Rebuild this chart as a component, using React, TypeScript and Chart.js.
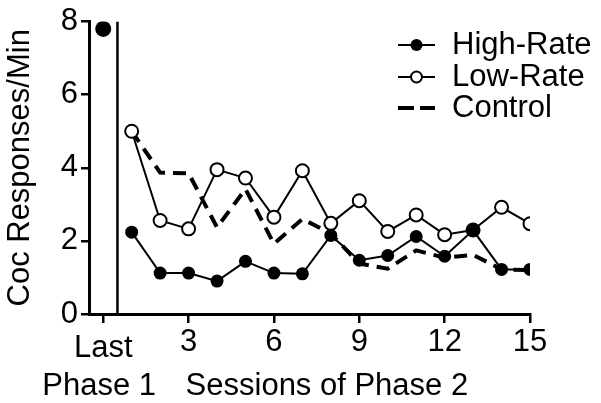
import React, { useEffect, useRef } from 'react';
import { Chart, registerables } from 'chart.js';

Chart.register(...registerables);

// ---- Data ----
const sessions = [1, 2, 3, 4, 5, 6, 7, 8, 9, 10, 11, 12, 13, 14, 15];
const lastPhase1X = 0;
const lastPhase1Value = 7.8;
const highRate = [2.24, 1.12, 1.12, 0.9, 1.44, 1.12, 1.1, 2.15, 1.47, 1.6, 2.12, 1.58, 2.29, 1.22, 1.22];
const lowRate = [5.0, 2.56, 2.33, 3.95, 3.72, 2.65, 3.92, 2.48, 3.1, 2.26, 2.71, 2.17, 2.3, 2.92, 2.47];
const control = [5.0, 3.87, 3.85, 2.37, 3.42, 1.92, 2.6, 2.2, 1.38, 1.24, 1.74, 1.54, 1.62, 1.22, 1.2];
const xTickValues = [0, 3, 6, 9, 12, 15];
const yTickValues = [0, 2, 4, 6, 8];
const dividerX = 0.5;
const legendLabels = ['High-Rate', 'Low-Rate', 'Control'];
const yTitle = 'Coc Responses/Min';
const lastLabel = 'Last';
const phase1Label = 'Phase 1';
const phase2Label = 'Sessions of Phase 2';

const FONT = '"Liberation Sans", Arial, Helvetica, sans-serif';
const FS = 31;

const extraText = {
  id: 'extraText',
  afterDraw(chart: any) {
    const ctx = chart.ctx;
    const xs = chart.scales.x;
    ctx.save();
    ctx.fillStyle = '#000';
    ctx.font = `${FS}px ${FONT}`;
    ctx.textBaseline = 'middle';
    ctx.textAlign = 'center';
    ctx.fillText(lastLabel, xs.getPixelForValue(0), 348.5);
    ctx.fillText(phase1Label, xs.getPixelForValue(0) - 4, 386);
    ctx.textAlign = 'left';
    ctx.fillText(phase2Label, xs.getPixelForValue(3) - 3, 386);

    // legend
    const rows = [45, 77, 108];
    const x1 = 398, x2 = 435, cx = 416.5, tx = 452;
    ctx.strokeStyle = '#000';
    // High-Rate
    ctx.lineWidth = 2;
    ctx.setLineDash([]);
    ctx.beginPath(); ctx.moveTo(x1, rows[0]); ctx.lineTo(x2, rows[0]); ctx.stroke();
    ctx.beginPath(); ctx.arc(cx, rows[0], 6, 0, Math.PI * 2); ctx.fill();
    // Low-Rate
    ctx.beginPath(); ctx.moveTo(x1, rows[1]); ctx.lineTo(x2, rows[1]); ctx.stroke();
    ctx.beginPath(); ctx.arc(cx, rows[1], 5.5, 0, Math.PI * 2);
    ctx.fillStyle = '#fff'; ctx.fill(); ctx.stroke();
    ctx.fillStyle = '#000';
    // Control
    ctx.lineWidth = 4;
    ctx.setLineDash([16, 6]);
    ctx.beginPath(); ctx.moveTo(x1, rows[2]); ctx.lineTo(x2, rows[2]); ctx.stroke();
    ctx.setLineDash([]);
    ctx.textAlign = 'left';
    legendLabels.forEach((l, i) => ctx.fillText(l, tx, rows[i]));
    ctx.restore();
  },
};

export default function App() {
  const ref = useRef<HTMLCanvasElement>(null);
  useEffect(() => {
    document.body.style.margin = '0';
    document.body.style.overflow = 'hidden';
    Chart.defaults.font.family = FONT;
    Chart.defaults.font.size = FS;
    Chart.defaults.color = '#000';
    const pts = (arr: number[]) => sessions.map((s, i) => ({ x: s, y: arr[i] }));
    const chart = new Chart(ref.current!, {
      type: 'line',
      data: {
        datasets: [
          {
            label: legendLabels[0],
            data: pts(highRate),
            borderColor: '#000',
            backgroundColor: '#000',
            borderWidth: 2,
            pointRadius: 6.5,
            pointBorderWidth: 0,
            tension: 0,
          },
          {
            label: 'Last Phase 1',
            data: [{ x: lastPhase1X, y: lastPhase1Value }],
            borderColor: '#000',
            backgroundColor: '#000',
            showLine: false,
            pointRadius: 8,
            pointBorderWidth: 0,
          },
          {
            label: legendLabels[1],
            data: pts(lowRate),
            borderColor: '#000',
            backgroundColor: '#fff',
            borderWidth: 2,
            pointRadius: 6.5,
            pointBorderWidth: 2,
            tension: 0,
          },
          {
            label: legendLabels[2],
            data: pts(control),
            borderColor: '#000',
            backgroundColor: '#000',
            borderWidth: 4,
            borderDash: [13, 8],
            pointRadius: 0,
            tension: 0,
          },
          {
            label: 'divider',
            data: [{ x: dividerX, y: yTickValues[0] }, { x: dividerX, y: yTickValues[yTickValues.length - 1] }],
            borderColor: '#000',
            borderWidth: 2.5,
            pointRadius: 0,
          },
        ],
      },
      options: {
        animation: false,
        responsive: false,
        events: [],
        layout: { padding: { top: 20, right: 71, left: 0, bottom: 0 } },
        plugins: { legend: { display: false }, tooltip: { enabled: false } },
        scales: {
          x: {
            type: 'linear',
            min: -0.5,
            max: 15,
            afterBuildTicks: (s: any) => { s.ticks = xTickValues.map((v) => ({ value: v })); },
            afterFit: (s: any) => { s.height = 89; },
            ticks: {
              autoSkip: false,
              maxRotation: 0,
              padding: 1,
              font: { size: FS },
              callback: (v: any) => (v === 0 ? '' : String(v)),
            },
            grid: { display: true, drawOnChartArea: false, drawTicks: true, tickLength: 9, color: '#000', lineWidth: 2.5 },
            border: { display: true, color: '#000', width: 3 },
          },
          y: {
            type: 'linear',
            min: 0,
            max: 8,
            afterBuildTicks: (s: any) => { s.ticks = yTickValues.map((v) => ({ value: v })); },
            afterFit: (s: any) => { s.width = 89; },
            ticks: { padding: 3, font: { size: FS } },
            grid: { display: true, drawOnChartArea: false, drawTicks: true, tickLength: 8, color: '#000', lineWidth: 2.5 },
            border: { display: true, color: '#000', width: 3 },
            title: { display: true, text: yTitle, font: { size: FS }, padding: { top: 2, bottom: 0 } },
          },
        },
      },
      plugins: [extraText],
    } as any);
    return () => chart.destroy();
  }, []);
  return <canvas ref={ref} width={601} height={403} />;
}
